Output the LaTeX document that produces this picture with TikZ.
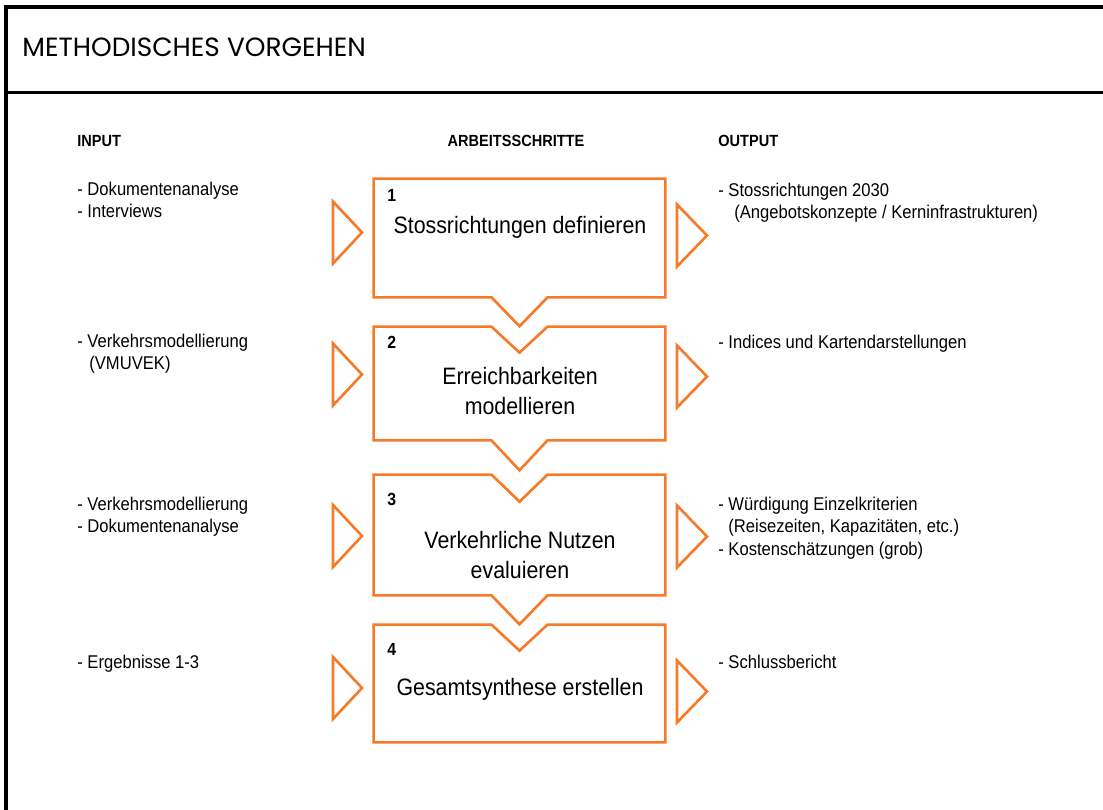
\documentclass[tikz,border=0pt]{standalone}
\usepackage{fontspec}
\setmainfont{Liberation Sans}
\newfontfamily\mvnarrow[FakeStretch=0.9]{Liberation Sans}
\newfontfamily\mvtitlefont{Poppins}
\usepackage{xcolor}
\usepackage{tikz}
\usetikzlibrary{calc}
\definecolor{mvorange}{RGB}{246,122,40}
\tikzset{
mvframe/.style={line width=2pt,draw=black},
mvtitle/.style={font=\mvtitlefont\fontsize{15}{17}\selectfont,anchor=west,inner sep=0pt},
mvhead/.style={font=\mvnarrow\bfseries\fontsize{9.2}{11}\selectfont,inner sep=0pt},
mvside/.style={font=\mvnarrow\fontsize{10.5}{12.6}\selectfont,align=left,anchor=north west,inner sep=0pt},
mvstep/.style={rectangle,minimum width=5.82cm,inner sep=0pt},
mvoutline/.style={draw=mvorange,line width=1.5pt,line join=miter},
mvnum/.style={font=\mvnarrow\bfseries\fontsize{10}{12}\selectfont,anchor=west,inner sep=0pt},
mvlabel/.style={font=\mvnarrow\fontsize{13.5}{17}\selectfont,align=center,inner sep=0pt},
mvtri/.style={draw=mvorange,line width=1.5pt,line join=miter}
}
\begin{document}
\begin{tikzpicture}[
x=1cm,
y=1cm
]
\useasboundingbox (0,0) rectangle (22.06,-16.2);
% frame and title
\draw[mvframe] (22.10,-0.14) -- (0.12,-0.14) -- (0.12,-16.25);
\draw[mvframe] (0.12,-1.85) -- (22.10,-1.85);
\node[mvtitle] (title) at (0.44,-0.94) {METHODISCHES VORGEHEN};
% column heads
\node[mvhead,anchor=west] (hinput) at (1.54,-2.82) {INPUT};
\node[mvhead] (hsteps) at (10.32,-2.82) {ARBEITSSCHRITTE};
\node[mvhead,anchor=west] (houtput) at (14.36,-2.82) {OUTPUT};
% step frames
\node[mvstep,minimum height=2.36cm] (s1) at (10.39,-4.76) {};
\node[mvstep,minimum height=2.26cm] (s2) at (10.39,-7.67) {};
\node[mvstep,minimum height=2.40cm] (s3) at (10.39,-10.70) {};
\node[mvstep,minimum height=2.34cm] (s4) at (10.39,-13.67) {};
\draw[mvoutline] (s1.north west) -- (s1.north east) -- (s1.south east)
  -- ($(s1.south)+(0.56,0)$) -- ($(s1.south)+(0,-0.58)$) -- ($(s1.south)+(-0.56,0)$)
  -- (s1.south west) -- cycle;
\draw[mvoutline] (s2.north west) -- ($(s2.north)+(-0.56,0)$) -- ($(s2.north)+(0,-0.52)$)
  -- ($(s2.north)+(0.56,0)$) -- (s2.north east) -- (s2.south east)
  -- ($(s2.south)+(0.56,0)$) -- ($(s2.south)+(0,-0.60)$) -- ($(s2.south)+(-0.56,0)$)
  -- (s2.south west) -- cycle;
\draw[mvoutline] (s3.north west) -- ($(s3.north)+(-0.56,0)$) -- ($(s3.north)+(0,-0.54)$)
  -- ($(s3.north)+(0.56,0)$) -- (s3.north east) -- (s3.south east)
  -- ($(s3.south)+(0.56,0)$) -- ($(s3.south)+(0,-0.58)$) -- ($(s3.south)+(-0.56,0)$)
  -- (s3.south west) -- cycle;
\draw[mvoutline] (s4.north west) -- ($(s4.north)+(-0.56,0)$) -- ($(s4.north)+(0,-0.52)$)
  -- ($(s4.north)+(0.56,0)$) -- (s4.north east) -- (s4.south east)
  -- (s4.south west) -- cycle;
% step numbers and texts
\node[mvnum] (n1) at (7.74,-3.90) {1};
\node[mvnum] (n2) at (7.74,-6.84) {2};
\node[mvnum] (n3) at (7.74,-9.98) {3};
\node[mvnum] (n4) at (7.74,-12.98) {4};
\node[mvlabel] (t1) at (10.40,-4.54) {Stossrichtungen definieren};
\node[mvlabel] (t2) at (10.40,-7.82) {Erreichbarkeiten\\modellieren};
\node[mvlabel] (t3) at (10.40,-11.10) {Verkehrliche Nutzen\\evaluieren};
\node[mvlabel] (t4) at (10.40,-13.78) {Gesamtsynthese erstellen};
% input / output triangles
\draw[mvtri] (6.66,-4.03) -- ++(0.58,-0.62) -- ++(-0.58,-0.62) -- cycle;
\draw[mvtri] (13.54,-4.09) -- ++(0.60,-0.62) -- ++(-0.60,-0.62) -- cycle;
\draw[mvtri] (6.66,-6.87) -- ++(0.58,-0.62) -- ++(-0.58,-0.62) -- cycle;
\draw[mvtri] (13.54,-6.91) -- ++(0.60,-0.62) -- ++(-0.60,-0.62) -- cycle;
\draw[mvtri] (6.66,-10.10) -- ++(0.58,-0.62) -- ++(-0.58,-0.62) -- cycle;
\draw[mvtri] (13.54,-10.11) -- ++(0.60,-0.62) -- ++(-0.60,-0.62) -- cycle;
\draw[mvtri] (6.66,-13.14) -- ++(0.58,-0.62) -- ++(-0.58,-0.62) -- cycle;
\draw[mvtri] (13.54,-13.21) -- ++(0.60,-0.62) -- ++(-0.60,-0.62) -- cycle;
% input texts
\node[mvside] (in1) at (1.54,-3.64) {- Dokumentenanalyse\\- Interviews};
\node[mvside] (in2) at (1.54,-6.68) {- Verkehrsmodellierung\\\hspace*{0.24cm}(VMUVEK)};
\node[mvside] (in3) at (1.54,-9.94) {- Verkehrsmodellierung\\- Dokumentenanalyse};
\node[mvside] (in4) at (1.54,-13.10) {- Ergebnisse 1-3};
% output texts
\node[mvside] (out1) at (14.36,-3.66) {- Stossrichtungen 2030\\\hspace*{0.32cm}(Angebotskonzepte / Kerninfrastrukturen)};
\node[mvside] (out2) at (14.36,-6.70) {- Indices und Kartendarstellungen};
\node[mvside] (out3) at (14.36,-9.94) {- Würdigung Einzelkriterien\\\hspace*{0.20cm}(Reisezeiten, Kapazitäten, etc.)\\- Kostenschätzungen (grob)};
\node[mvside] (out4) at (14.36,-13.10) {- Schlussbericht};
\end{tikzpicture}
\end{document}
